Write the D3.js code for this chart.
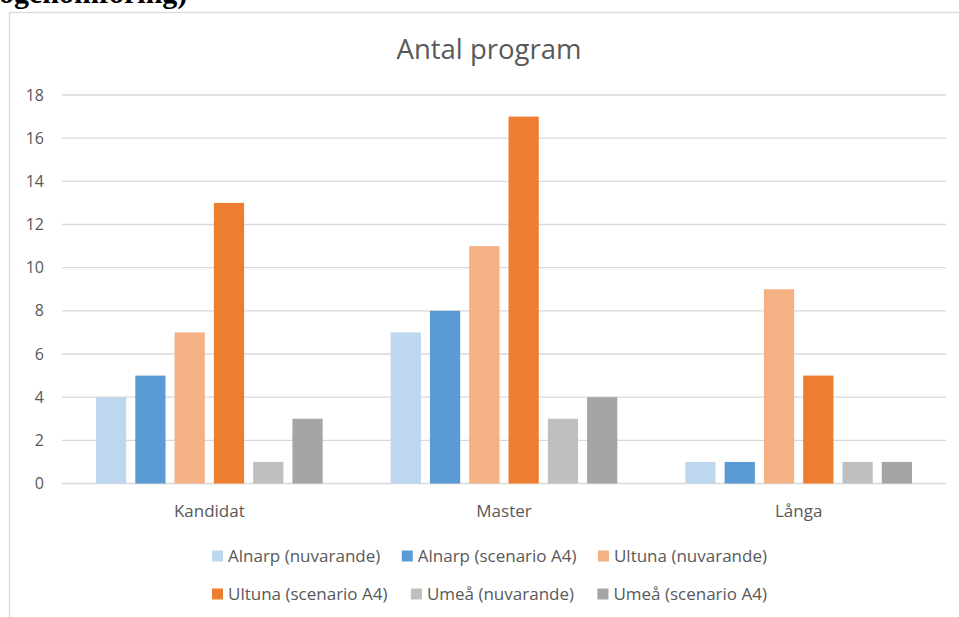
<!DOCTYPE html>
<html>
<head>
<meta charset="utf-8">
<script src="https://cdn.jsdelivr.net/npm/d3@7"></script>
<style>
  body { margin: 0; background: #fff; }
  svg { display: block; }
</style>
</head>
<body>
<div id="chart"></div>
<script>
// Data
const categories = ["Kandidat", "Master", "Långa"];
const seriesNames = [
  "Alnarp (nuvarande)", "Alnarp (scenario A4)", "Ultuna (nuvarande)",
  "Ultuna (scenario A4)", "Umeå (nuvarande)", "Umeå (scenario A4)"
];
const seriesColors = ["#BDD7EE", "#5B9BD5", "#F4B183", "#ED7D31", "#BFBFBF", "#A5A5A5"];
const kandidatValues = [4, 5, 7, 13, 1, 3];
const masterValues = [7, 8, 11, 17, 3, 4];
const langaValues = [1, 1, 9, 5, 1, 1];
const yTicks = [0, 2, 4, 6, 8, 10, 12, 14, 16, 18];
const legendRows = [[0, 1, 2], [3, 4, 5]];

const valuesByCategory = [kandidatValues, masterValues, langaValues];
const data = categories.map((c, i) => ({
  category: c,
  values: seriesNames.map((s, j) => ({ key: s, value: valuesByCategory[i][j], color: seriesColors[j] }))
}));

const width = 959, height = 617;
const font = "'Open Sans', sans-serif";
const textColor = "#595959";
const gridColor = "#d9d9d9";

const svg = d3.select("#chart")
  .append("svg")
  .attr("width", width)
  .attr("height", height);

// Überschrift aus dem Dokument (oben abgeschnitten, wie im Original)
svg.append("text")
  .attr("x", -1)
  .attr("y", 3)
  .attr("font-family", "'Liberation Serif', serif")
  .attr("font-weight", "bold")
  .attr("font-size", 30)
  .attr("fill", "#000")
  .text("ogenomföring)");

// Rahmen des Diagramms
svg.append("rect")
  .attr("x", 9.5)
  .attr("y", 12.5)
  .attr("width", 960)
  .attr("height", 620)
  .attr("fill", "#fff")
  .attr("stroke", gridColor)
  .attr("stroke-width", 1.3);

// Scales
const yScale = d3.scaleLinear()
  .domain([0, 18])
  .range([483.5, 95]);

const x0 = d3.scaleBand()
  .domain(categories)
  .range([62, 946]);

const x1 = d3.scaleBand()
  .domain(seriesNames)
  .range([0, x0.bandwidth()])
  .paddingInner(0.23)
  .paddingOuter(0.865);

// Gridlines
svg.append("g")
  .selectAll("line")
  .data(yTicks)
  .join("line")
  .attr("x1", 62)
  .attr("x2", 946)
  .attr("y1", d => yScale(d))
  .attr("y2", d => yScale(d))
  .attr("stroke", gridColor)
  .attr("stroke-width", 1.3);

// Y-Achse (nur Beschriftung)
const leftAxis = d3.axisLeft(yScale)
  .tickValues(yTicks)
  .tickSize(0)
  .tickPadding(0);

const yAxis = svg.append("g")
  .attr("transform", "translate(44,0)")
  .call(leftAxis);
yAxis.select(".domain").remove();
yAxis.selectAll("text")
  .attr("font-family", font)
  .attr("font-size", 16)
  .attr("fill", textColor);

// Balken
const groups = svg.append("g")
  .selectAll("g")
  .data(data)
  .join("g")
  .attr("transform", d => `translate(${x0(d.category)},0)`);

groups.selectAll("rect")
  .data(d => d.values)
  .join("rect")
  .attr("x", d => x1(d.key))
  .attr("y", d => yScale(d.value))
  .attr("width", x1.bandwidth())
  .attr("height", d => yScale(0) - yScale(d.value))
  .attr("fill", d => d.color);

// X-Achse
const bottomAxis = d3.axisBottom(x0)
  .tickSize(0)
  .tickPadding(21);

const xAxis = svg.append("g")
  .attr("transform", `translate(0,${yScale(0)})`)
  .call(bottomAxis);
xAxis.select(".domain").remove();
xAxis.selectAll("text")
  .attr("font-family", font)
  .attr("font-size", 17)
  .attr("fill", textColor);

// Titel
svg.append("text")
  .attr("x", 489)
  .attr("y", 59)
  .attr("text-anchor", "middle")
  .attr("font-family", font)
  .attr("font-size", 27.5)
  .attr("fill", textColor)
  .text("Antal program");

// Legende: jede Zeile zwischen x=212 und x=767 verteilt
const legendY = [556, 594];
const legendLeft = 212, legendRight = 767;
legendRows.forEach((row, r) => {
  const g = svg.append("g").attr("transform", `translate(0,${legendY[r]})`);
  const items = row.map(i => {
    const item = g.append("g");
    item.append("rect")
      .attr("x", 0)
      .attr("y", -5.5)
      .attr("width", 11)
      .attr("height", 11)
      .attr("fill", seriesColors[i]);
    const t = item.append("text")
      .attr("x", 16)
      .attr("y", 0)
      .attr("dy", "0.35em")
      .attr("font-family", font)
      .attr("font-size", 17)
      .attr("fill", textColor)
      .text(seriesNames[i]);
    return { item, w: 16 + t.node().getComputedTextLength() };
  });
  const used = d3.sum(items, d => d.w);
  const gap = (legendRight - legendLeft - used) / (items.length - 1);
  let x = legendLeft;
  items.forEach(d => {
    d.item.attr("transform", `translate(${x},0)`);
    x += d.w + gap;
  });
});
</script>
</body>
</html>
